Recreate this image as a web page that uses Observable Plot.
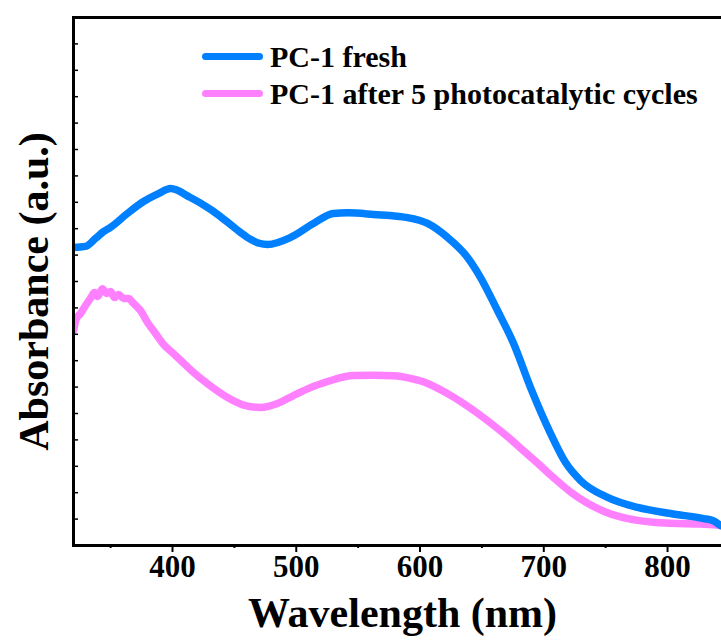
<!DOCTYPE html>
<html><head><meta charset="utf-8">
<script src="https://cdn.jsdelivr.net/npm/d3@7"></script>
<script src="https://cdn.jsdelivr.net/npm/@observablehq/plot@0.6"></script>
<style>
body{margin:0;background:#fff;}
#wrap{position:relative;width:721px;height:644px;overflow:hidden;font-family:"Liberation Serif","Times New Roman",serif;font-weight:bold;}
.legend{position:absolute;left:202px;top:38px;}
.row{display:flex;align-items:center;height:37px;font-size:30px;color:#000;white-space:nowrap;}
.sw{width:61px;height:7px;border-radius:4px;margin-right:7px;}
</style></head><body><div id="wrap"></div>
<script>
const seriesNames = ["PC-1 fresh", "PC-1 after 5 photocatalytic cycles"];
const seriesColors = ["#0080ff", "#ff80ff"];

const freshWl = [320, 329.7, 337.8, 344.2, 349.9, 363.6, 376.6, 388.7, 398.4, 414.5, 430.7, 442.8, 454.9, 463.0, 470.0, 476.8, 495.4, 513.9, 530.1, 541.4, 562.4, 589.9, 606.1, 622.2, 638.4, 648.9, 662.6, 675.6, 689.3, 705.5, 717.6, 729.7, 751.5, 775.8, 802.4, 829.1, 836.4, 842.8];
const freshAbs = [11.29, 11.33, 11.63, 11.89, 12.05, 12.58, 13.03, 13.33, 13.52, 13.18, 12.73, 12.31, 11.86, 11.60, 11.45, 11.40, 11.67, 12.20, 12.58, 12.60, 12.54, 12.42, 12.20, 11.67, 10.91, 10.15, 8.90, 7.65, 5.98, 4.24, 3.14, 2.46, 1.82, 1.44, 1.21, 1.02, 0.95, 0.76];

const agedWl = [320, 322.4, 325.7, 329.7, 333.7, 337.0, 339.4, 343.4, 346.7, 349.9, 353.1, 356.4, 360.4, 364.4, 368.5, 374.1, 379.8, 386.3, 392.7, 400.0, 406.5, 414.5, 429.1, 444.4, 459.0, 471.1, 484.8, 497.8, 511.5, 525.3, 535.8, 546.3, 562.4, 578.6, 592.3, 606.1, 616.6, 627.1, 640.8, 654.5, 670.7, 681.2, 695.0, 707.9, 721.6, 735.4, 748.3, 762.0, 775.8, 788.7, 802.4, 826.7, 842.8];
const agedAbs = [8.14, 8.60, 8.79, 9.09, 9.36, 9.58, 9.43, 9.73, 9.55, 9.62, 9.39, 9.51, 9.36, 9.36, 9.17, 8.90, 8.45, 8.03, 7.62, 7.30, 7.02, 6.66, 6.10, 5.61, 5.30, 5.23, 5.38, 5.68, 5.98, 6.21, 6.36, 6.44, 6.45, 6.43, 6.33, 6.14, 5.90, 5.62, 5.20, 4.73, 4.12, 3.69, 3.12, 2.57, 2.03, 1.60, 1.30, 1.08, 0.95, 0.88, 0.84, 0.81, 0.76];

const xMajorTicks = [400, 500, 600, 700, 800];
const xMinorTicks = [350, 450, 550, 650, 750];
const yTicks = d3.range(0, 21);
const xTitle = "Wavelength (nm)";
const yTitle = "Absorbance (a.u.)";

const fresh = freshWl.map((w, i) => ({w, a: freshAbs[i]}));
const aged = agedWl.map((w, i) => ({w, a: agedAbs[i]}));

const font = '"Liberation Serif","Times New Roman",serif';

const chart = Plot.plot({
  width: 721, height: 644,
  marginLeft: 73, marginRight: 0, marginTop: 17, marginBottom: 99,
  style: {fontFamily: font, fontWeight: "bold", background: "transparent", overflow: "visible"},
  x: {domain: [320, 843.6]},
  y: {domain: [0, 20]},
  marks: [
    Plot.line(aged, {x: "w", y: "a", stroke: seriesColors[1], strokeWidth: 7.5, curve: "monotone-x", clip: true}),
    Plot.line(fresh, {x: "w", y: "a", stroke: seriesColors[0], strokeWidth: 7.5, curve: "monotone-x", clip: true}),
    Plot.axisY(yTicks, {tickSize: -5, tickFormat: () => "", label: null, strokeWidth: 1.5}),
    Plot.axisX(xMajorTicks, {tickSize: 7, tickPadding: 2, fontSize: 31, label: null, strokeWidth: 2, fill: "#000"}),
    Plot.axisX(xMinorTicks, {tickSize: 3, tickFormat: () => "", label: null, strokeWidth: 2}),
    Plot.frame({anchor: "left", strokeWidth: 3}),
    Plot.frame({anchor: "bottom", strokeWidth: 3}),
    Plot.frame({anchor: "top", strokeWidth: 3}),
    Plot.text([xTitle], {frameAnchor: "bottom", dy: 81, dx: 5, fontSize: 42, fontWeight: "bold", fill: "#000"}),
    Plot.text([yTitle], {frameAnchor: "left", textAnchor: "middle", rotate: -90, dx: -39, dy: 10, fontSize: 42, fontWeight: "bold", fill: "#000"})
  ]
});

const wrap = document.getElementById("wrap");
wrap.appendChild(chart);
const legend = document.createElement("div");
legend.className = "legend";
seriesNames.forEach((name, i) => {
  const row = document.createElement("div");
  row.className = "row";
  const sw = document.createElement("span");
  sw.className = "sw";
  sw.style.background = seriesColors[i];
  const t = document.createElement("span");
  t.textContent = name;
  row.appendChild(sw); row.appendChild(t);
  legend.appendChild(row);
});
wrap.appendChild(legend);
</script></body></html>
